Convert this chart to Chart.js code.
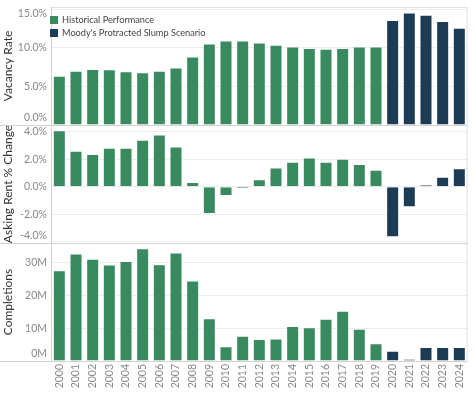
<!DOCTYPE html>
<html>
<head>
<meta charset="utf-8">
<script src="https://cdn.jsdelivr.net/npm/chart.js@4.4.1/dist/chart.umd.min.js"></script>
<style>
  html, body { margin: 0; padding: 0; background: #fff; }
  #wrap { position: relative; width: 475px; height: 396px; }
  #legend { position: absolute; left: 50px; top: 14px; font: 9.2px Lato, sans-serif; color: #444; }
  #legend div { height: 12.5px; line-height: 12.5px; display: flex; align-items: center; }
  #legend span.sw { display: inline-block; width: 8px; height: 8px; margin-right: 4px; }
</style>
</head>
<body>
<div id="wrap">
  <canvas id="chart" width="475" height="396"></canvas>
  <div id="legend"></div>
</div>
<script>
const years = ['2000','2001','2002','2003','2004','2005','2006','2007','2008','2009','2010','2011','2012',
  '2013','2014','2015','2016','2017','2018','2019','2020','2021','2022','2023','2024'];
const lastHistoricalYear = '2019';
// percent
const vacancyRate = [6.4, 7.05, 7.27, 7.23, 6.97, 6.84, 7.05, 7.44, 8.87, 10.56, 10.95, 10.95, 10.7,
  10.4, 10.17, 10.0, 9.9, 10.0, 10.17, 10.17, 13.6, 14.6, 14.3, 13.5, 12.6];
// percent
const askingRentChange = [4.12, 2.62, 2.38, 2.84, 2.84, 3.42, 3.81, 2.94, 0.34, -1.99, -0.68, -0.05, 0.54,
  1.41, 1.82, 2.14, 1.82, 2.04, 1.65, 1.24, -3.68, -1.5, 0.05, 0.73, 1.34];
// millions
const completions = [27.8, 32.9, 31.3, 29.5, 30.6, 34.5, 29.6, 33.2, 24.6, 13.1, 4.5, 7.7, 6.7,
  6.9, 10.7, 10.3, 12.9, 15.4, 9.9, 5.4, 3.15, 0.6, 4.3, 4.3, 4.3];
const vacancyTicks = [0, 5, 10, 15];
const rentTicks = [-4, -2, 0, 2, 4];
const completionTicks = [0, 10, 20, 30];
const seriesNames = ['Historical Performance', "Moody's Protracted Slump Scenario"];

const GREEN = '#3a8a5f';
const NAVY = '#1c3b55';
const FONT = 'Lato, sans-serif';
const barColors = years.map(y => y <= lastHistoricalYear ? GREEN : NAVY);

// legend
const legendEl = document.getElementById('legend');
[GREEN, NAVY].forEach((c, i) => {
  const row = document.createElement('div');
  row.innerHTML = '<span class="sw" style="background:' + c + '"></span>' + seriesNames[i];
  legendEl.appendChild(row);
});

const pct = v => v.toFixed(1) + '%';
const mil = v => v + 'M';

const barStyle = {
  backgroundColor: barColors,
  borderColor: 'rgba(255,255,255,0.3)',
  borderWidth: 1,
  borderSkipped: 'start',
  barPercentage: 0.78,
  categoryPercentage: 1,
  minBarLength: 2,
  grouped: false
};

function yAxis(min, max, ticks, title, weight) {
  return {
    position: 'left', stack: 'panels', stackWeight: 1, weight: weight,
    min: min, max: max,
    afterBuildTicks: s => { s.ticks = ticks.map(v => ({ value: v })); },
    afterFit: s => { s.width = 51; },
    ticks: { display: false },
    grid: { color: '#ededed', drawTicks: false },
    border: { display: false },
    title: { display: true, text: title, color: '#333', font: { family: FONT, size: 12 }, padding: { top: 1, bottom: 0 } }
  };
}

// y tick labels, kept inside their panel like the original
const tickLabels = {
  id: 'tickLabels',
  afterDraw(chart) {
    const ctx = chart.ctx;
    ctx.save();
    ctx.font = '10.5px ' + FONT;
    ctx.fillStyle = '#888';
    ctx.textAlign = 'right';
    ctx.textBaseline = 'middle';
    [['yVac', pct], ['yRent', pct], ['yComp', mil]].forEach(([id, fmt]) => {
      const s = chart.scales[id];
      s.ticks.forEach(t => {
        let y = s.getPixelForValue(t.value);
        y = Math.min(Math.max(y, s.top + 7), s.bottom - 7);
        ctx.fillText(fmt(t.value), 47, y);
      });
    });
    ctx.restore();
  }
};

// panel borders and row dividers
const panelLines = {
  id: 'panelLines',
  beforeDatasetsDraw(chart) {
    const ctx = chart.ctx, a = chart.chartArea;
    ctx.save();
    ctx.lineWidth = 1;
    ctx.strokeStyle = '#e2e2e2';
    ctx.beginPath();
    ctx.moveTo(a.left, a.top + 0.5); ctx.lineTo(a.right, a.top + 0.5);
    ctx.moveTo(a.right - 0.5, a.top); ctx.lineTo(a.right - 0.5, a.bottom);
    ctx.stroke();
    ctx.strokeStyle = '#d2d2d2';
    ctx.beginPath();
    [chart.scales.yVac.bottom, chart.scales.yRent.bottom, a.bottom].forEach(y => {
      const yy = Math.round(y) + 0.5;
      ctx.moveTo(0, yy); ctx.lineTo(a.right, yy);
    });
    ctx.moveTo(a.left + 0.5, a.top); ctx.lineTo(a.left + 0.5, a.bottom);
    ctx.stroke();
    ctx.restore();
  }
};

new Chart(document.getElementById('chart'), {
  type: 'bar',
  data: {
    labels: years,
    datasets: [
      { label: 'Vacancy Rate', data: vacancyRate, yAxisID: 'yVac', ...barStyle },
      { label: 'Asking Rent % Change', data: askingRentChange, yAxisID: 'yRent', ...barStyle },
      { label: 'Completions', data: completions, yAxisID: 'yComp', ...barStyle }
    ]
  },
  options: {
    responsive: false,
    animation: false,
    layout: { padding: { top: 7, right: 4, left: 0, bottom: 0 } },
    plugins: { legend: { display: false }, tooltip: { enabled: false } },
    scales: {
      x: {
        grid: { display: false, drawTicks: false },
        border: { display: false },
        ticks: { minRotation: 90, maxRotation: 90, autoSkip: false, color: '#888', font: { family: FONT, size: 10.5 }, padding: 3 },
        afterFit: s => { s.height = 35; }
      },
      yComp: yAxis(0, 36.1, completionTicks, 'Completions', 1),
      yRent: yAxis(-4.1, 4.5, rentTicks, 'Asking Rent % Change', 2),
      yVac: yAxis(0, 15.3, vacancyTicks, 'Vacancy Rate', 3)
    }
  },
  plugins: [panelLines, tickLabels]
});
</script>
</body>
</html>
